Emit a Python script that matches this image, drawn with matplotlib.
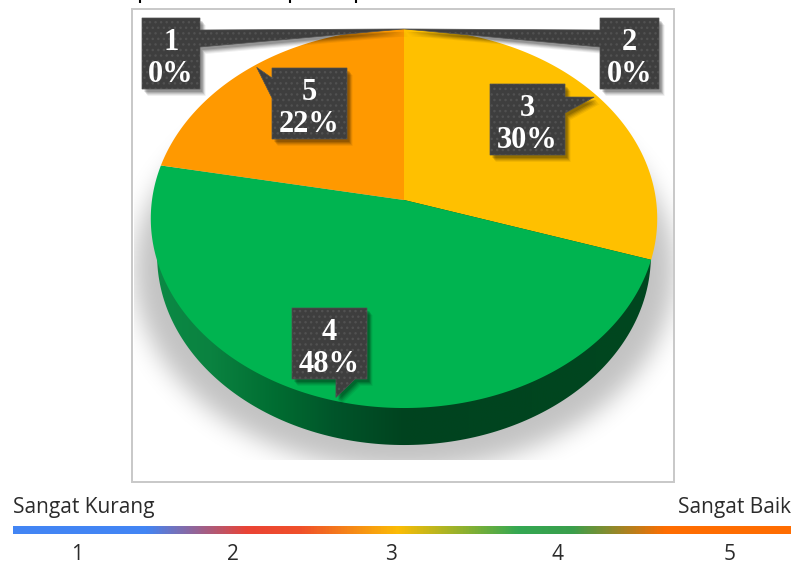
"""Perspective pie of rating shares with a colour scale underneath."""

import matplotlib

matplotlib.use("Agg")
import matplotlib.pyplot as plt
import numpy as np
from matplotlib.colors import LinearSegmentedColormap
from matplotlib.patches import Polygon, Rectangle

# data, clockwise from the top
categories = ["1", "2", "3", "4", "5"]
shares = [0, 0, 30, 48, 22]
slice_colors = ["#4285f4", "#ea4335", "#ffc000", "#00b450", "#ff9900"]

scale_ticks = ["1", "2", "3", "4", "5"]
scale_low = "Sangat Kurang"
scale_high = "Sangat Baik"

# layout, in image pixels
W, H = 794, 566
CX, CY = 404, 200
BOX_DARK = "#3e3e3e"
# left, top, right, bottom of each label box
boxes = {
    "1": (142, 18, 200, 89),
    "2": (600, 18, 659, 89),
    "3": (490, 84, 565, 155),
    "4": (292, 308, 367, 379),
    "5": (272, 68, 347, 139),
}
# which box edge the pointer leaves from
pointer_base = {
    "1": ((200, 47), (200, 30)),
    "2": ((600, 30), (600, 47)),
    "3": ((565, 97), (565, 113)),
    "4": ((355, 379), (336, 379)),
    "5": ((272, 98), (272, 78)),
}
scale_tick_x = [77, 233, 391, 558, 730]
# unreadable specks left by a line of text cropped off the top of the image
speck_x = [140, 290, 356]


def rim_point(frac, r=1.0):
    # circle seen at an angle, so the centre sits above the ellipse middle
    t = 2 * np.pi * np.asarray(frac)
    u, v = r * np.sin(t), r * np.cos(t)
    d = 0.0976 * v + 1
    return CX + 252 * u / d, (CY - 168.2 * v) / d


def blur(a, sigma):
    n = int(3 * sigma)
    k = np.exp(-0.5 * (np.arange(-n, n + 1) / sigma) ** 2)
    k /= k.sum()
    a = np.array([np.convolve(row, k, mode="same") for row in a])
    return np.array([np.convolve(col, k, mode="same") for col in a.T]).T


fig = plt.figure(figsize=(W / 100, H / 100), dpi=100)
ax = fig.add_axes([0, 0, 1, 1])
ax.axis("off")

# frame
ax.add_patch(Rectangle((132, 9), 542, 473, fill=False, ec="#c8c8c8", lw=1.4, zorder=1))

# soft shadow below the pie
yy, xx = np.mgrid[0:H, 0:W]
mask = (((xx - 404) / 270.0) ** 2 + ((yy - 270) / 200.0) ** 2 < 1).astype(float)
shadow = blur(mask, 12) * 0.24
shadow[yy > 459] = 0
shadow[(xx < 134) | (xx > 672)] = 0
rgba = np.zeros((H, W, 4))
rgba[..., 3] = shadow
ax.imshow(rgba, extent=(0, W, H, 0), aspect="auto", zorder=2)

# side wall, dark towards the front
fr = np.linspace(0, 1, 361)
rim_x, rim_y = rim_point(fr)
side = Polygon(np.column_stack([CX + (rim_x - CX) * 0.975, rim_y + 37]), fc="none", ec="none", zorder=2)
ax.add_patch(side)
side_cmap = LinearSegmentedColormap.from_list(
    "side",
    [(0, "#0b8a45"), (0.12, "#0a8240"), (0.25, "#006c31"), (0.36, "#00552a"), (0.5, "#00431f"), (1, "#00471f")],
)
wall = ax.imshow(
    np.linspace(0, 1, 256)[None, :], extent=(150, 660, 460, 200), cmap=side_cmap, aspect="auto", zorder=3
)
wall.set_clip_path(side)

# top face
start = 0.0
total = sum(shares)
for share, color in zip(shares, slice_colors):
    if share:
        f = np.linspace(start, start + share / total, 200)
        x, y = rim_point(f)
        ax.fill(np.r_[CX, x], np.r_[CY, y], color=color, lw=0, zorder=4)
    start += share / total

# label boxes with a pointer to the middle of each slice rim
start = 0.0
for cat, share in zip(categories, shares):
    mid = start + share / total / 2
    start += share / total
    tip = rim_point(mid, 0.985 if share else 1.0)
    l, t, r, b = boxes[cat]
    p0, p1 = pointer_base[cat]
    if cat == "1":
        pts = [(l, t), (r, t), p1, tip, p0, (r, b), (l, b)]
    elif cat == "3":
        pts = [(l, t), (r, t), p0, tip, p1, (r, b), (l, b)]
    elif cat == "2":
        pts = [(l, t), (r, t), (r, b), (l, b), p1, tip, p0]
    elif cat == "4":
        pts = [(l, t), (r, t), (r, b), p0, tip, p1, (l, b)]
    else:
        pts = [(l, t), (r, t), (r, b), (l, b), p0, tip, p1]
    pts = np.array(pts, dtype=float)
    for off, a in zip((7, 6, 5, 4, 3), (0.06, 0.08, 0.1, 0.12, 0.15)):
        ax.add_patch(Polygon(pts + (off * 0.8, off), fc="black", ec="none", alpha=a, zorder=5))
    ax.add_patch(Polygon(pts, fc=BOX_DARK, ec="#515151", lw=0.5, hatch="...", zorder=6))
    ax.text((l + r) / 2, t + 24, cat, color="white", fontsize=22, fontweight="bold",
            family="Liberation Serif", ha="center", va="center", zorder=7)
    ax.text((l + r) / 2, t + 56, f"{share}%", color="white", fontsize=22, fontweight="bold",
            family="Liberation Serif", ha="center", va="center", zorder=7)

# colour scale
scale_cmap = LinearSegmentedColormap.from_list(
    "scale",
    [(0, "#4285f4"), (0.17, "#4285f4"), (0.3, "#ea4335"), (0.37, "#f0502a"), (0.495, "#fbbc05"),
     (0.65, "#34a853"), (0.72, "#3a9f4c"), (0.84, "#ff6d01"), (1, "#ff6d01")],
)
ax.imshow(np.linspace(0, 1, 512)[None, :], extent=(13, 791, 534, 526), cmap=scale_cmap, aspect="auto", zorder=2)
ax.text(13, 508, scale_low, fontsize=15, family="Open Sans", color="#2b2b2b", ha="left", va="center")
ax.text(791, 508, scale_high, fontsize=15, family="Open Sans", color="#2b2b2b", ha="right", va="center")
for x, lab in zip(scale_tick_x, scale_ticks):
    ax.text(x, 554, lab, fontsize=15, family="Open Sans", color="#2b2b2b", ha="center", va="center")

for x in speck_x:
    ax.plot([x, x], [0, 3], color="black", lw=1.5, solid_capstyle="butt")

ax.set_xlim(0, W)
ax.set_ylim(H, 0)
fig.savefig("out.png", dpi=100)
